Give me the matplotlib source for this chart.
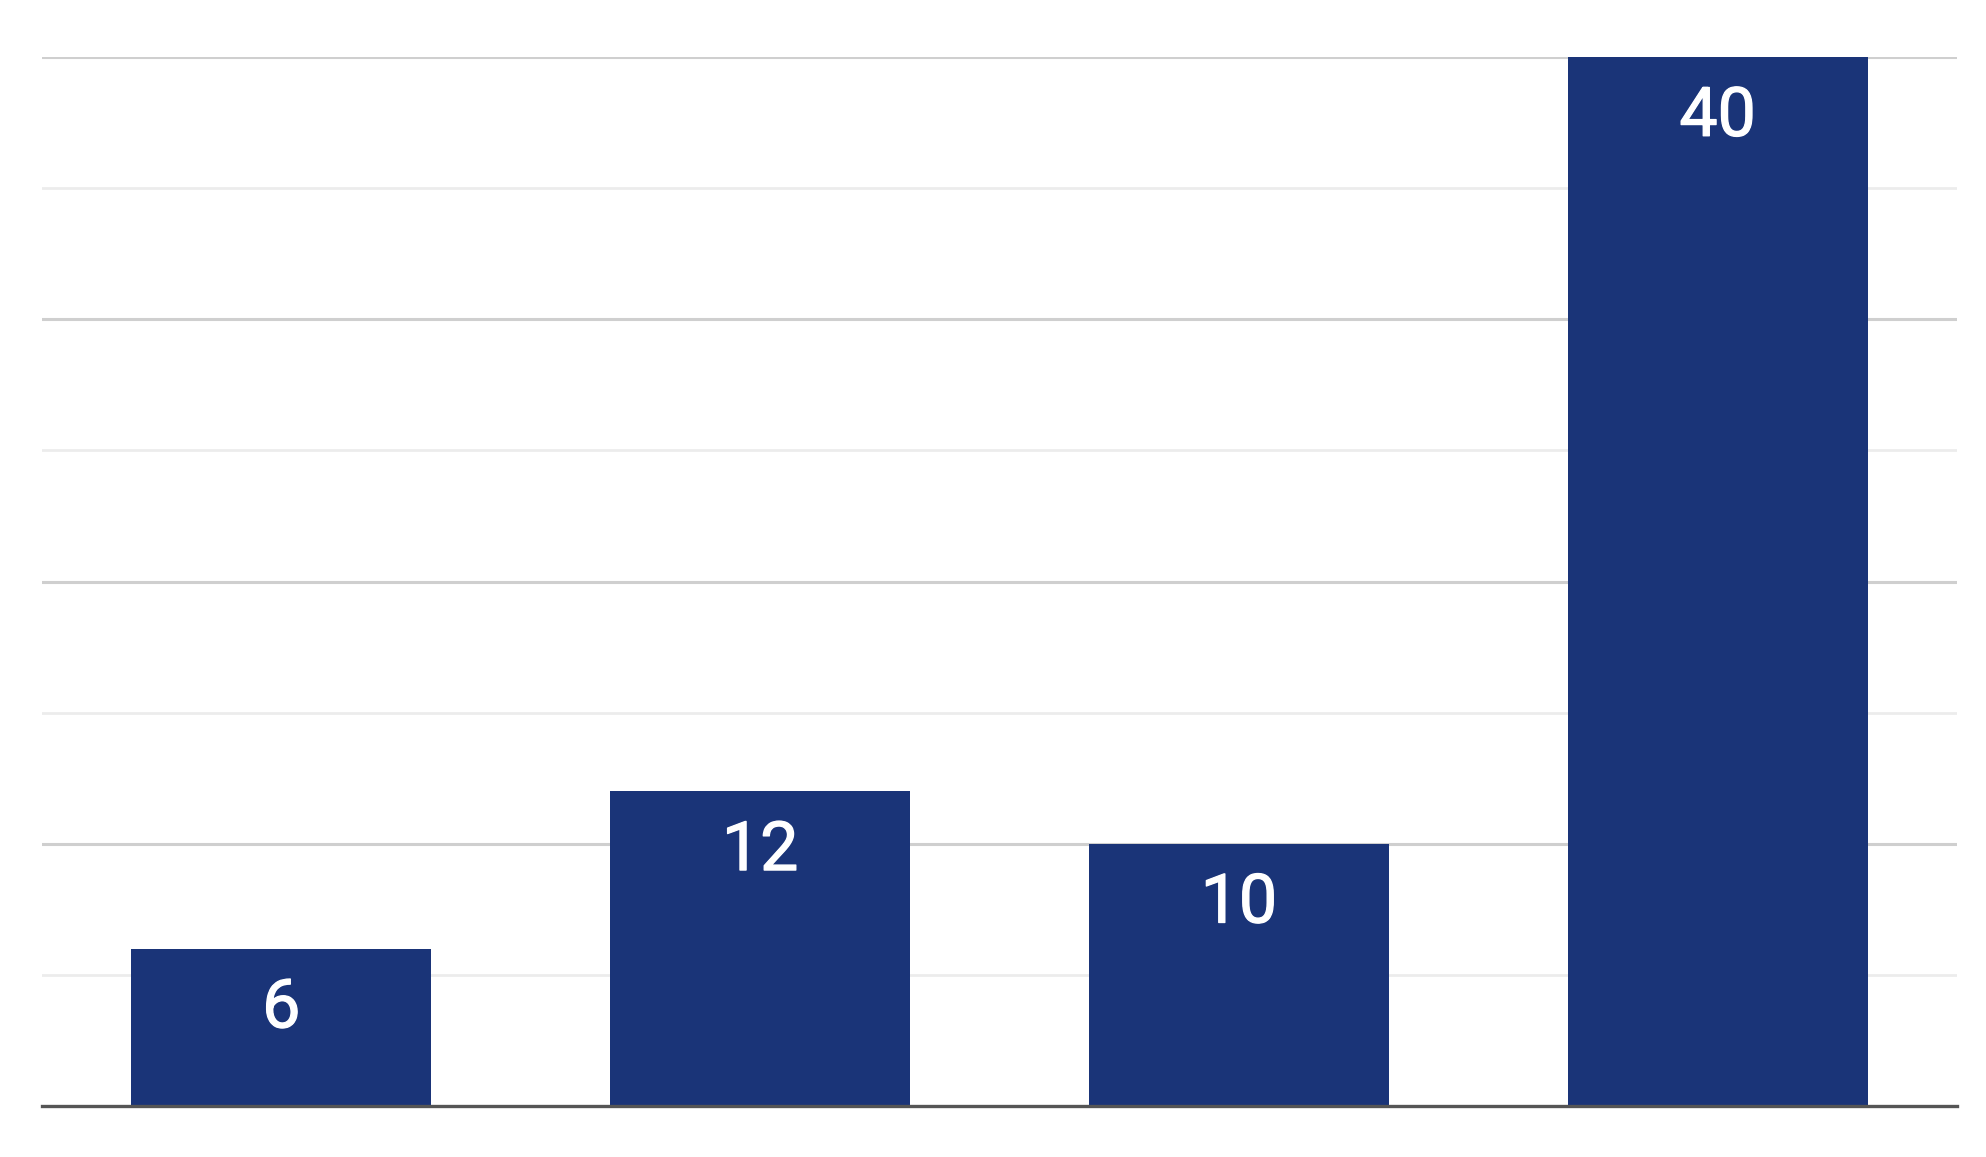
import matplotlib
matplotlib.use("Agg")
import matplotlib.pyplot as plt
import matplotlib.patheffects as pe

categories = ["A", "B", "C", "D"]
values = [6, 12, 10, 40]
major_ticks = [10, 20, 30, 40]
minor_ticks = [5, 15, 25, 35]

fig = plt.figure(figsize=(19.86, 11.57), dpi=100)
ax = fig.add_axes([0.0211, 0.0441, 0.9643, 0.9066])

x = list(range(len(categories)))
bars = ax.bar(x, values, width=0.627, color="#1a3478", zorder=3)

ax.set_xlim(-0.5, len(categories) - 0.5)
ax.set_ylim(0, 40)

for y in major_ticks:
    ax.axhline(y, color="#cfcfcf", linewidth=2.2, zorder=1)
for y in minor_ticks:
    ax.axhline(y, color="#ececec", linewidth=2.0, zorder=1)

for s in ["top", "left", "right"]:
    ax.spines[s].set_visible(False)
ax.spines["bottom"].set_color("#555555")
ax.spines["bottom"].set_linewidth(2.4)
ax.spines["bottom"].set_zorder(4)
ax.set_xticks([])
ax.set_yticks([])

for xi, v in zip(x, values):
    ax.annotate(str(v), xy=(xi, v), xytext=(0, -38), textcoords="offset points",
                ha="center", va="center_baseline", color="white", fontsize=49,
                family=["Roboto", "DejaVu Sans"], zorder=5,
                path_effects=[pe.withStroke(linewidth=0.9, foreground="white")])

fig.savefig("out.png", dpi=100, facecolor="white")
